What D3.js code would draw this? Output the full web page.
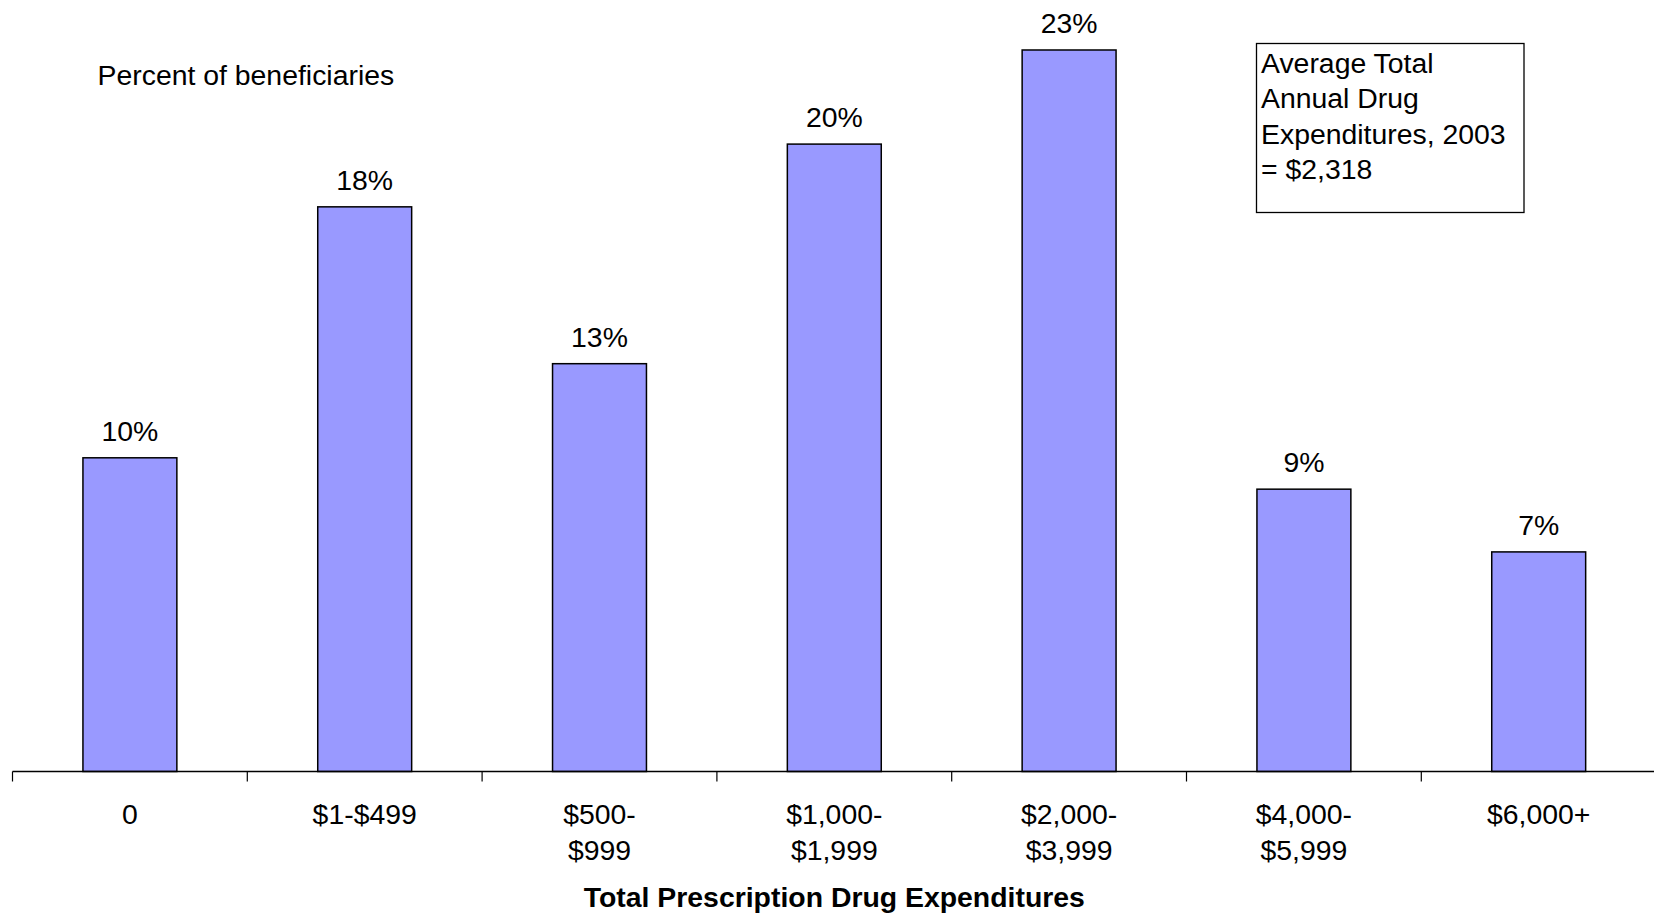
<!DOCTYPE html>
<html>
<head>
<meta charset="utf-8">
<script src="https://cdn.jsdelivr.net/npm/d3@7"></script>
<style>
  html, body { margin: 0; padding: 0; background: #fff; }
  svg { display: block; font-family: "Liberation Sans", Arial, sans-serif; }
</style>
</head>
<body>
<svg id="chart" width="1654" height="913"></svg>
<script>
const categories = ["0", "$1-$499", "$500-$999", "$1,000-$1,999", "$2,000-$3,999", "$4,000-$5,999", "$6,000+"];
const tickLabels = [["0"], ["$1-$499"], ["$500-", "$999"], ["$1,000-", "$1,999"], ["$2,000-", "$3,999"], ["$4,000-", "$5,999"], ["$6,000+"]];
const values = [10, 18, 13, 20, 23, 9, 7];
const valueLabels = ["10%", "18%", "13%", "20%", "23%", "9%", "7%"];
const yAxisTitle = "Percent of beneficiaries";
const xAxisTitle = "Total Prescription Drug Expenditures";
const noteLines = ["Average Total", "Annual Drug", "Expenditures, 2003", "= $2,318"];

const svg = d3.select("#chart");
const baseY = 771.5;
const unit = 31.37;
const fs = 28.4;

const x = d3.scaleBand()
  .domain(categories)
  .range([12.5, 12.5 + 7 * 234.8])
  .paddingInner(0.6)
  .paddingOuter(0.3);

const y = d3.scaleLinear()
  .domain([0, 25])
  .range([baseY, baseY - 25 * unit]);

const gap = (x.step() - x.bandwidth()) / 2;

// bars
svg.append("g").selectAll("rect")
  .data(values)
  .join("rect")
  .attr("x", (d, i) => x(categories[i]))
  .attr("y", d => y(d))
  .attr("width", x.bandwidth())
  .attr("height", d => y(0) - y(d))
  .attr("fill", "#9999FF")
  .attr("stroke", "#000")
  .attr("stroke-width", 1.5);

// value labels
svg.append("g").selectAll("text")
  .data(values)
  .join("text")
  .attr("x", (d, i) => x(categories[i]) + x.bandwidth() / 2)
  .attr("y", d => y(d) - 17)
  .attr("text-anchor", "middle")
  .attr("font-size", fs)
  .attr("fill", "#000")
  .text((d, i) => valueLabels[i]);

// axis line
svg.append("line")
  .attr("x1", x.range()[0])
  .attr("x2", 1654)
  .attr("y1", y(0))
  .attr("y2", y(0))
  .attr("stroke", "#000")
  .attr("stroke-width", 1.5);

// ticks at band boundaries
svg.append("g").selectAll("line")
  .data(categories)
  .join("line")
  .attr("x1", d => x(d) - gap)
  .attr("x2", d => x(d) - gap)
  .attr("y1", y(0))
  .attr("y2", y(0) + 10)
  .attr("stroke", "#000")
  .attr("stroke-width", 1.2);

// tick labels
const tl = svg.append("g").selectAll("text")
  .data(categories)
  .join("text")
  .attr("text-anchor", "middle")
  .attr("font-size", fs)
  .attr("fill", "#000");
tl.each(function(d, i) {
  const t = d3.select(this);
  tickLabels[i].forEach((line, j) => {
    t.append("tspan")
      .attr("x", x(d) + x.bandwidth() / 2)
      .attr("y", 824 + j * 35.5)
      .text(line);
  });
});

// x axis title
svg.append("text")
  .attr("x", (x.range()[0] + x.range()[1]) / 2)
  .attr("y", 907)
  .attr("text-anchor", "middle")
  .attr("font-size", fs)
  .attr("font-weight", "bold")
  .text(xAxisTitle);

// y axis title
svg.append("text")
  .attr("x", 97.5)
  .attr("y", 85)
  .attr("font-size", fs)
  .text(yAxisTitle);

// note box
svg.append("rect")
  .attr("x", 1256.5)
  .attr("y", 43.5)
  .attr("width", 267.5)
  .attr("height", 169)
  .attr("fill", "#fff")
  .attr("stroke", "#000")
  .attr("stroke-width", 1.3);

svg.append("g").selectAll("text")
  .data(noteLines)
  .join("text")
  .attr("x", 1261)
  .attr("y", (d, i) => 73 + i * 35.3)
  .attr("font-size", fs)
  .text(d => d);
</script>
</body>
</html>
